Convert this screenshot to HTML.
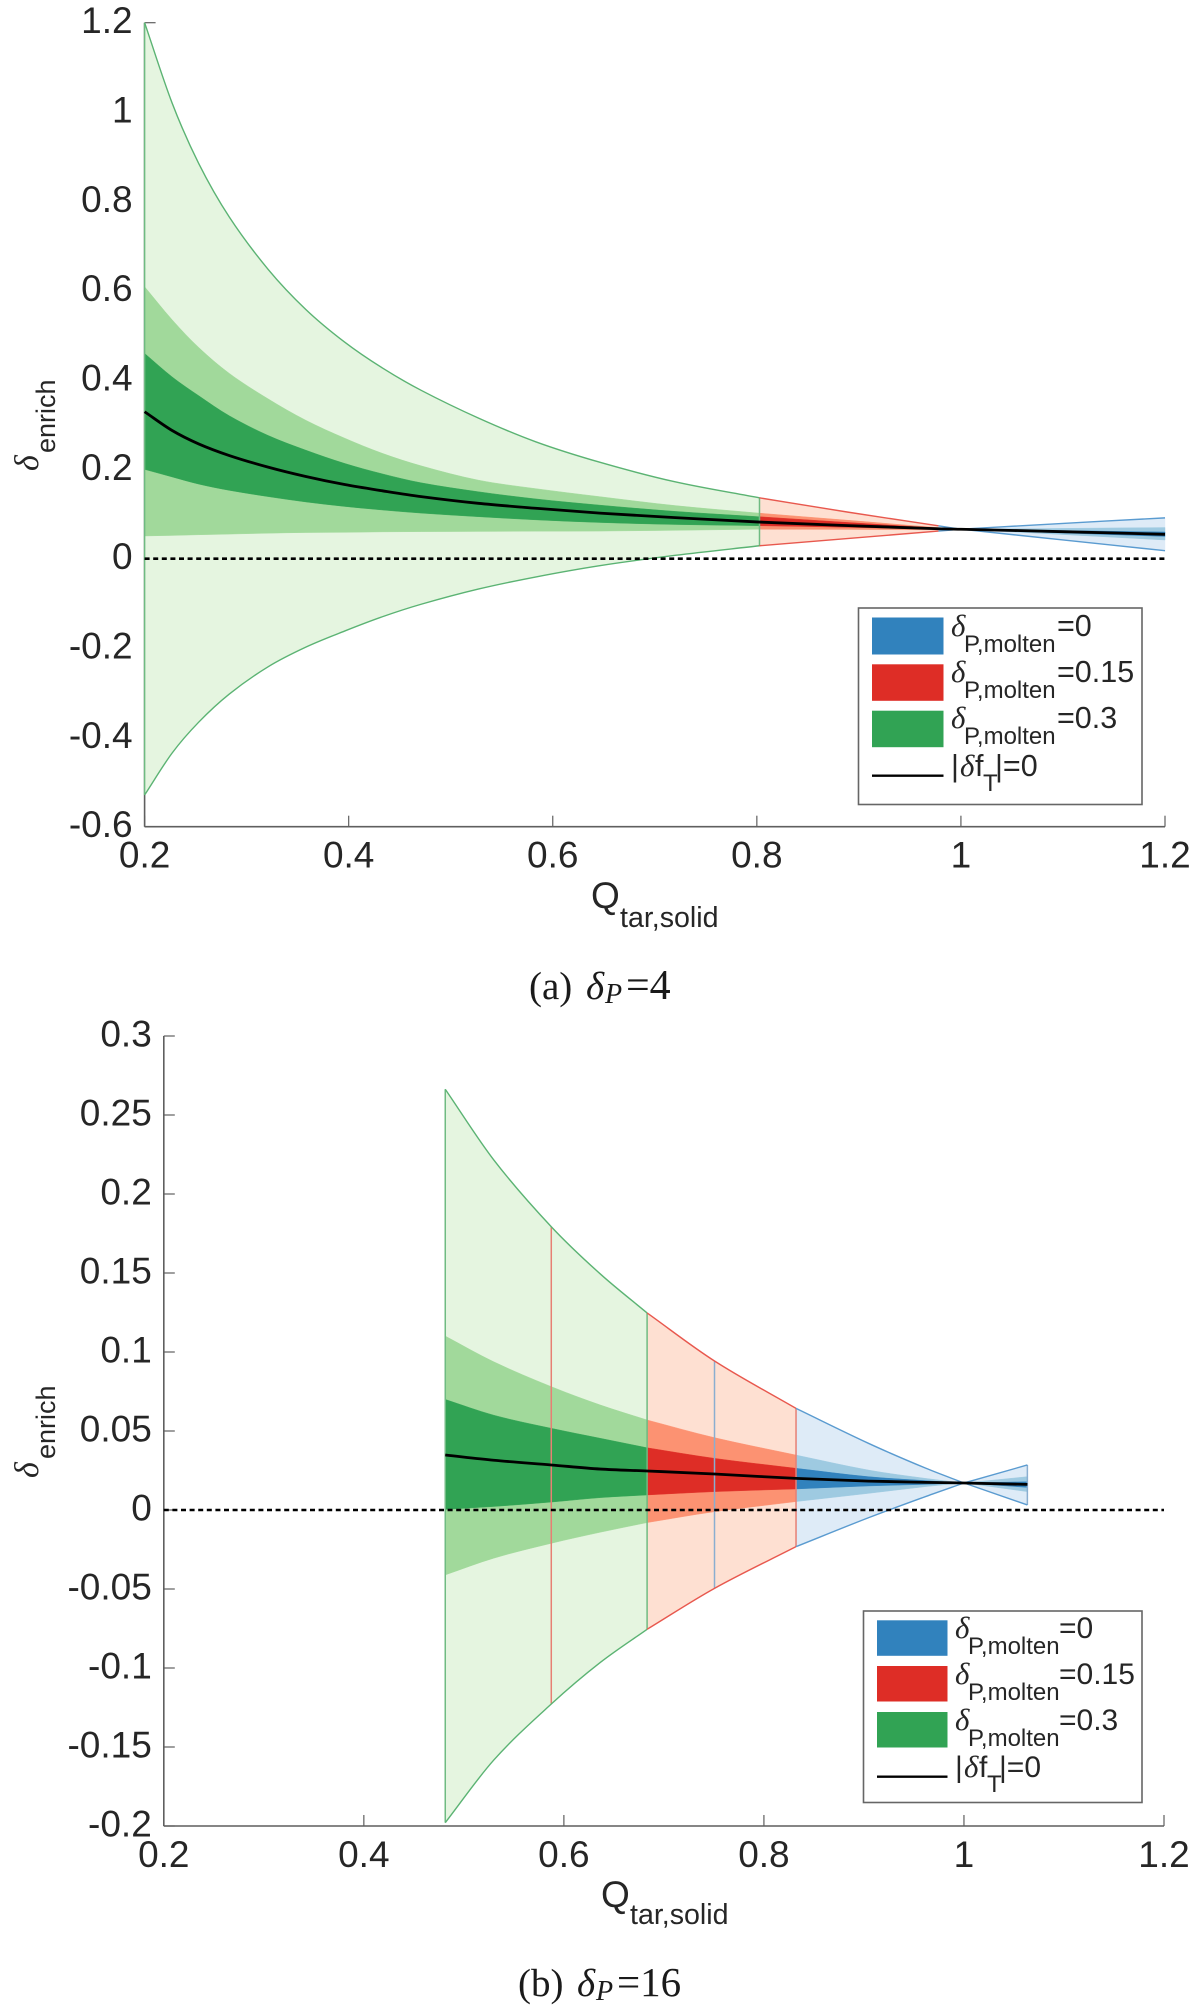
<!DOCTYPE html>
<html lang="en">
<head>
<meta charset="utf-8">
<title>Enrichment versus Q tar,solid</title>
<style>
html,body{margin:0;padding:0;background:#fff;}
svg{display:block;}
text{font-family:"Liberation Sans",sans-serif;fill:#262626;}
.g{font-family:"Liberation Serif",serif;font-style:italic;}
.cap{font-family:"Liberation Serif",serif;fill:#1a1a1a;}
</style>
</head>
<body>
<svg id="fig" xmlns="http://www.w3.org/2000/svg" width="1200" height="2006" viewBox="0 0 1200 2006">
  <g id="panelA"></g>
  <g id="panelB"></g>

  <g>
    <text class="g" transform="translate(38,471) rotate(-90)" font-size="34">δ</text>
    <text transform="translate(55,453) rotate(-90)" font-size="27">enrich</text>
  </g>
  <g>
    <text x="591" y="908" font-size="37">Q</text>
    <text x="620" y="927" font-size="28.6">tar,solid</text>
  </g>
  <g>
    <text class="cap" x="529" y="999" font-size="39">(a)</text>
    <text class="cap" x="586" y="999" font-size="39" font-style="italic">δ</text>
    <text class="cap" x="605" y="1003" font-size="28" font-style="italic">P</text>
    <text class="cap" x="626" y="999" font-size="42">=4</text>
  </g>
  <g>
    <rect x="858.5" y="608" width="283.5" height="196.5" fill="#fff" stroke="#666" stroke-width="1.6"/>
    <rect x="872" y="617.5" width="71.5" height="37" fill="#3182bd"/>
    <rect x="872" y="664.3" width="71.5" height="36.5" fill="#de2d26"/>
    <rect x="872" y="710.7" width="71.5" height="36.5" fill="#31a354"/>
    <line x1="872" x2="943.5" y1="775.7" y2="775.7" stroke="#000" stroke-width="2.4"/>
    <g>
      <text class="g" x="951" y="636" font-size="31">δ</text><text x="964" y="652" font-size="24">P,molten</text><text x="1057" y="636" font-size="30.5">=0</text>
    </g>
    <g>
      <text class="g" x="951" y="682" font-size="31">δ</text><text x="964" y="698" font-size="24">P,molten</text><text x="1057" y="682" font-size="30.5">=0.15</text>
    </g>
    <g>
      <text class="g" x="951" y="728" font-size="31">δ</text><text x="964" y="744" font-size="24">P,molten</text><text x="1057" y="728" font-size="30.5">=0.3</text>
    </g>
    <g>
      <text x="951" y="776" font-size="30.5">|</text><text class="g" x="960" y="776" font-size="31">δ</text><text x="975" y="776" font-size="30.5">f</text><text x="983" y="791" font-size="24">T</text><text x="995" y="776" font-size="30.5">|=0</text>
    </g>
  </g>

  <g>
    <text class="g" transform="translate(38,1478) rotate(-90)" font-size="34">δ</text>
    <text transform="translate(55,1459) rotate(-90)" font-size="27">enrich</text>
  </g>
  <g>
    <text x="601" y="1907" font-size="37">Q</text>
    <text x="630" y="1924" font-size="28.6">tar,solid</text>
  </g>
  <g>
    <text class="cap" x="518" y="1996" font-size="39">(b)</text>
    <text class="cap" x="577" y="1996" font-size="39" font-style="italic">δ</text>
    <text class="cap" x="596" y="2000" font-size="28" font-style="italic">P</text>
    <text class="cap" x="617" y="1996" font-size="41">=16</text>
  </g>
  <g>
    <rect x="863.5" y="1611" width="278.5" height="191.5" fill="#fff" stroke="#666" stroke-width="1.6"/>
    <rect x="877" y="1620.3" width="70.5" height="35.5" fill="#3182bd"/>
    <rect x="877" y="1666" width="70.5" height="35.5" fill="#de2d26"/>
    <rect x="877" y="1712" width="70.5" height="35.5" fill="#31a354"/>
    <line x1="877" x2="947.5" y1="1776.7" y2="1776.7" stroke="#000" stroke-width="2.4"/>
    <g>
      <text class="g" x="955" y="1638" font-size="31">δ</text><text x="968" y="1654" font-size="24">P,molten</text><text x="1059" y="1638" font-size="30">=0</text>
    </g>
    <g>
      <text class="g" x="955" y="1684" font-size="31">δ</text><text x="968" y="1700" font-size="24">P,molten</text><text x="1059" y="1684" font-size="30">=0.15</text>
    </g>
    <g>
      <text class="g" x="955" y="1730" font-size="31">δ</text><text x="968" y="1746" font-size="24">P,molten</text><text x="1059" y="1730" font-size="30">=0.3</text>
    </g>
    <g>
      <text x="955" y="1777" font-size="30">|</text><text class="g" x="964" y="1777" font-size="31">δ</text><text x="979" y="1777" font-size="30">f</text><text x="987" y="1792" font-size="24">T</text><text x="999" y="1777" font-size="30">|=0</text>
    </g>
  </g>
</svg>
<script>
// ---- Panel (a) data ----
const aXTicks = [0.2, 0.4, 0.6, 0.8, 1, 1.2];
const aYTicks = [1.2, 1, 0.8, 0.6, 0.4, 0.2, 0, -0.2, -0.4, -0.6];
const aQ =          [0.2,   0.227, 0.253, 0.283, 0.321, 0.358, 0.396, 0.433, 0.471, 0.527, 0.583, 0.646, 0.72,  0.8026, 0.89,  0.978, 1,     1.1,   1.2];
const aOuterUpper = [1.2,   1.02,  0.885, 0.765, 0.648, 0.558, 0.485, 0.427, 0.377, 0.315, 0.262, 0.216, 0.172, 0.1362, 0.104, 0.0735,0.066, 0.079, 0.0914];
const aMidUpper =   [0.609, 0.535, 0.473, 0.415, 0.358, 0.31,  0.27,  0.236, 0.208, 0.176, 0.157, 0.139, 0.119, 0.102,  0.086, 0.0695,0.066, 0.068, 0.0698];
const aDarkUpper =  [0.4597,0.407, 0.365, 0.32,  0.276, 0.243, 0.2134,0.19,  0.17,  0.15,  0.134, 0.12,  0.106, 0.094,  0.081, 0.0685,0.066, 0.063, 0.0598];
const aCenter =     [0.329, 0.287, 0.257, 0.231, 0.205, 0.184, 0.166, 0.152, 0.139, 0.124, 0.113, 0.102, 0.092, 0.082,  0.074, 0.067, 0.066, 0.0605,0.0546];
const aDarkLower =  [0.1999,0.183, 0.167, 0.153, 0.139, 0.127, 0.117, 0.109, 0.102, 0.094, 0.087, 0.081, 0.0765,0.0738, 0.0702,0.0655,0.066, 0.0575,0.0498];
const aMidLower =   [0.0508,0.052, 0.0535,0.055, 0.057, 0.0585,0.059, 0.06,  0.0605,0.061, 0.0615,0.0618,0.0635,0.0658, 0.0655,0.0645,0.066, 0.054, 0.0418];
const aOuterLower = [-0.529,-0.435,-0.366,-0.303,-0.242,-0.198,-0.162,-0.13,-0.102,-0.068,-0.041,-0.0156,0.0075,0.029,0.0454,0.0619,0.066,0.042,0.0179];
const aRegionEnds = [0.8026, 0.978, 1.2];
const aPinchQ = 1;
const aEdgeQ = [0.2, 0.8026];
const aEdgeColor = ['green', 'green'];

// ---- Panel (b) data ----
const bXTicks = [0.2, 0.4, 0.6, 0.8, 1, 1.2];
const bYTicks = [0.3, 0.25, 0.2, 0.15, 0.1, 0.05, 0, -0.05, -0.1, -0.15, -0.2];
const bQ =          [0.4814, 0.53,   0.5874, 0.6364, 0.6832, 0.7506, 0.8321, 0.9045, 0.962,  1,      1.0634];
const bOuterUpper = [0.2663, 0.2215, 0.1793, 0.1494, 0.1247, 0.0943, 0.0643, 0.0422, 0.0264, 0.0171, 0.0285];
const bMidUpper =   [0.1101, 0.0938, 0.0781, 0.0665, 0.057,  0.0458, 0.0348, 0.0253, 0.02,   0.0171, 0.0211];
const bDarkUpper =  [0.07,   0.06,   0.0517, 0.0454, 0.0394, 0.0327, 0.0264, 0.0211, 0.0186, 0.0171, 0.0179];
const bCenter =     [0.0348, 0.0315, 0.0285, 0.0259, 0.0247, 0.0228, 0.02,   0.0183, 0.0175, 0.0171, 0.0162];
const bDarkLower =  [0.0004, 0.0022, 0.005,  0.0078, 0.0095, 0.0116, 0.0133, 0.0152, 0.0162, 0.0171, 0.0143];
const bMidLower =   [-0.0411,-0.0305,-0.0211,-0.0141,-0.008, -0.0011,0.0053, 0.0105, 0.0148, 0.0171, 0.0116];
const bOuterLower = [-0.1979,-0.1582,-0.1228,-0.0965,-0.0755,-0.0496,-0.0232,-0.0049,0.0086, 0.0171, 0.0032];
const bRegionEnds = [0.6832, 0.8321, 1.0634];
const bPinchQ = 1;
const bEdgeQ = [0.4814, 0.5874, 0.6832, 0.7506, 0.8321, 1.0634];
const bEdgeColor = ['green', 'red', 'green', 'blue', 'red', 'blue'];

const regionNames = ['green', 'red', 'blue'];
const palette = {
  green: { light: '#e5f5e0', mid: '#a1d99b', dark: '#31a354', edge: '#5bb373', vert: '#6fbb82' },
  red:   { light: '#fee0d2', mid: '#fc9272', dark: '#de2d26', edge: '#e8584e', vert: '#e77f74' },
  blue:  { light: '#deebf7', mid: '#9ecae1', dark: '#3182bd', edge: '#5a9bd0', vert: '#8aaed0' }
};
const NS = 'http://www.w3.org/2000/svg';

function mk(tag, attrs, parent) {
  const e = document.createElementNS(NS, tag);
  for (const k in attrs) e.setAttribute(k, attrs[k]);
  parent.appendChild(e);
  return e;
}

// Smooth path through points (x-monotonic Hermite); the pinch point keeps a sharp corner
function curve(pts, cont, breakX) {
  function slope(i, side) {
    const isBreak = Math.abs(pts[i][0] - breakX) < 0.01;
    let a = i - 1, b = i + 1;
    if (a < 0 || (isBreak && side > 0)) a = i;
    if (b >= pts.length || (isBreak && side < 0)) b = i;
    return (pts[b][1] - pts[a][1]) / (pts[b][0] - pts[a][0]);
  }
  let d = (cont ? 'L' : 'M') + pts[0][0].toFixed(2) + ' ' + pts[0][1].toFixed(2);
  for (let i = 0; i < pts.length - 1; i++) {
    const p1 = pts[i], p2 = pts[i + 1];
    const dx = p2[0] - p1[0];
    const c1x = p1[0] + dx / 3, c1y = p1[1] + slope(i, 1) * dx / 3;
    const c2x = p2[0] - dx / 3, c2y = p2[1] - slope(i + 1, -1) * dx / 3;
    d += 'C' + c1x.toFixed(2) + ' ' + c1y.toFixed(2) + ' ' + c2x.toFixed(2) + ' ' + c2y.toFixed(2) + ' ' + p2[0].toFixed(2) + ' ' + p2[1].toFixed(2);
  }
  return d;
}

function drawPanel(cfg) {
  const root = document.getElementById(cfg.id);
  const x = v => cfg.x0 + (v - cfg.xMin) / (cfg.xMax - cfg.xMin) * (cfg.x1 - cfg.x0);
  const y = v => cfg.yBottom - (v - cfg.yMin) / (cfg.yMax - cfg.yMin) * (cfg.yBottom - cfg.yTop);
  const axisColor = '#5f5f5f';
  const pinchX = x(cfg.pinchQ);

  // axes
  const yAxis = mk('line', { x1: cfg.x0, x2: cfg.x0, y1: cfg.yTop, y2: cfg.yBottom, stroke: axisColor, 'stroke-width': 1.6 }, root);
  
  
  const xAxis = mk('line', { x1: cfg.x0, x2: cfg.x1, y1: cfg.yBottom, y2: cfg.yBottom, stroke: axisColor, 'stroke-width': 1.6 }, root);
  
  

  cfg.xTicks.forEach(function (t) {
    const tick = mk('line', { x1: x(t), x2: x(t), y1: cfg.yBottom, y2: cfg.yBottom - 11, stroke: axisColor, 'stroke-width': 1.2 }, root);
    
    
    const label = mk('text', { x: x(t), y: cfg.yBottom + 41, 'font-size': cfg.tickFont, 'text-anchor': 'middle' }, root);
    label.textContent = String(t);
    
    
  });
  cfg.yTicks.forEach(function (t) {
    const tick = mk('line', { x1: cfg.x0, x2: cfg.x0 + 11, y1: y(t), y2: y(t), stroke: axisColor, 'stroke-width': 1.2 }, root);
    
    
    const label = mk('text', { x: cfg.x0 - 12, y: y(t) + 10.5, 'font-size': cfg.tickFont, 'text-anchor': 'end' }, root);
    label.textContent = String(t);
    
    
  });

  // bands, region by region
  function band(upper, lower, lo, hi, fill, name) {
    const up = [], dn = [];
    for (let i = 0; i < cfg.q.length; i++) {
      if (cfg.q[i] >= lo && cfg.q[i] <= hi) {
        up.push([x(cfg.q[i]), y(upper[i])]);
        dn.unshift([x(cfg.q[i]), y(lower[i])]);
      }
    }
    const p = mk('path', { d: curve(up, false, pinchX) + curve(dn, true, pinchX) + 'Z', fill: fill, stroke: fill, 'stroke-width': 0.4 }, root);
    
    
  }
  function outline(series, lo, hi, color, name) {
    const pts = [];
    for (let i = 0; i < cfg.q.length; i++) {
      if (cfg.q[i] >= lo && cfg.q[i] <= hi) pts.push([x(cfg.q[i]), y(series[i])]);
    }
    const p = mk('path', { d: curve(pts, false, pinchX), fill: 'none', stroke: color, 'stroke-width': 1.4 }, root);
    
    
  }

  let lo = cfg.q[0];
  cfg.regionEnds.forEach(function (hi, r) {
    const nm = regionNames[r];
    const c = palette[nm];
    band(cfg.outerUpper, cfg.outerLower, lo, hi, c.light, cfg.prefix + '-' + nm + '-outer-band');
    band(cfg.midUpper, cfg.midLower, lo, hi, c.mid, cfg.prefix + '-' + nm + '-middle-band');
    band(cfg.darkUpper, cfg.darkLower, lo, hi, c.dark, cfg.prefix + '-' + nm + '-inner-band');
    lo = hi;
  });

  // vertical patch edges
  cfg.edgeQ.forEach(function (q, i) {
    const idx = cfg.q.indexOf(q);
    const v = mk('line', { x1: x(q), x2: x(q), y1: y(cfg.outerUpper[idx]), y2: y(cfg.outerLower[idx]), stroke: palette[cfg.edgeColor[i]].vert, 'stroke-width': 1.5 }, root);
    
    
  });

  lo = cfg.q[0];
  cfg.regionEnds.forEach(function (hi, r) {
    const nm = regionNames[r];
    outline(cfg.outerUpper, lo, hi, palette[nm].edge, cfg.prefix + '-' + nm + '-upper-edge');
    outline(cfg.outerLower, lo, hi, palette[nm].edge, cfg.prefix + '-' + nm + '-lower-edge');
    lo = hi;
  });

  // zero reference
  const zero = mk('line', { x1: cfg.x0, x2: cfg.x1, y1: y(0), y2: y(0), stroke: '#000', 'stroke-width': 2.6, 'stroke-dasharray': '5 3.6' }, root);
  
  

  // centre line
  const centre = mk('path', { d: curve(cfg.q.map(function (q, i) { return [x(q), y(cfg.center[i])]; }), false, pinchX), fill: 'none', stroke: '#000', 'stroke-width': 2.8 }, root);
  
  
}

drawPanel({
  id: 'panelA', prefix: 'panel-a',
  x0: 144.6, x1: 1165, xMin: 0.2, xMax: 1.2,
  yTop: 22.7, yBottom: 826.7, yMin: -0.6, yMax: 1.2,
  tickFont: 37, pinchQ: aPinchQ,
  xTicks: aXTicks, yTicks: aYTicks, q: aQ,
  outerUpper: aOuterUpper, midUpper: aMidUpper, darkUpper: aDarkUpper, center: aCenter,
  darkLower: aDarkLower, midLower: aMidLower, outerLower: aOuterLower,
  regionEnds: aRegionEnds, edgeQ: aEdgeQ, edgeColor: aEdgeColor
});

drawPanel({
  id: 'panelB', prefix: 'panel-b',
  x0: 163.8, x1: 1164, xMin: 0.2, xMax: 1.2,
  yTop: 1036, yBottom: 1826, yMin: -0.2, yMax: 0.3,
  tickFont: 37, pinchQ: bPinchQ,
  xTicks: bXTicks, yTicks: bYTicks, q: bQ,
  outerUpper: bOuterUpper, midUpper: bMidUpper, darkUpper: bDarkUpper, center: bCenter,
  darkLower: bDarkLower, midLower: bMidLower, outerLower: bOuterLower,
  regionEnds: bRegionEnds, edgeQ: bEdgeQ, edgeColor: bEdgeColor
});
</script>
</body>
</html>
